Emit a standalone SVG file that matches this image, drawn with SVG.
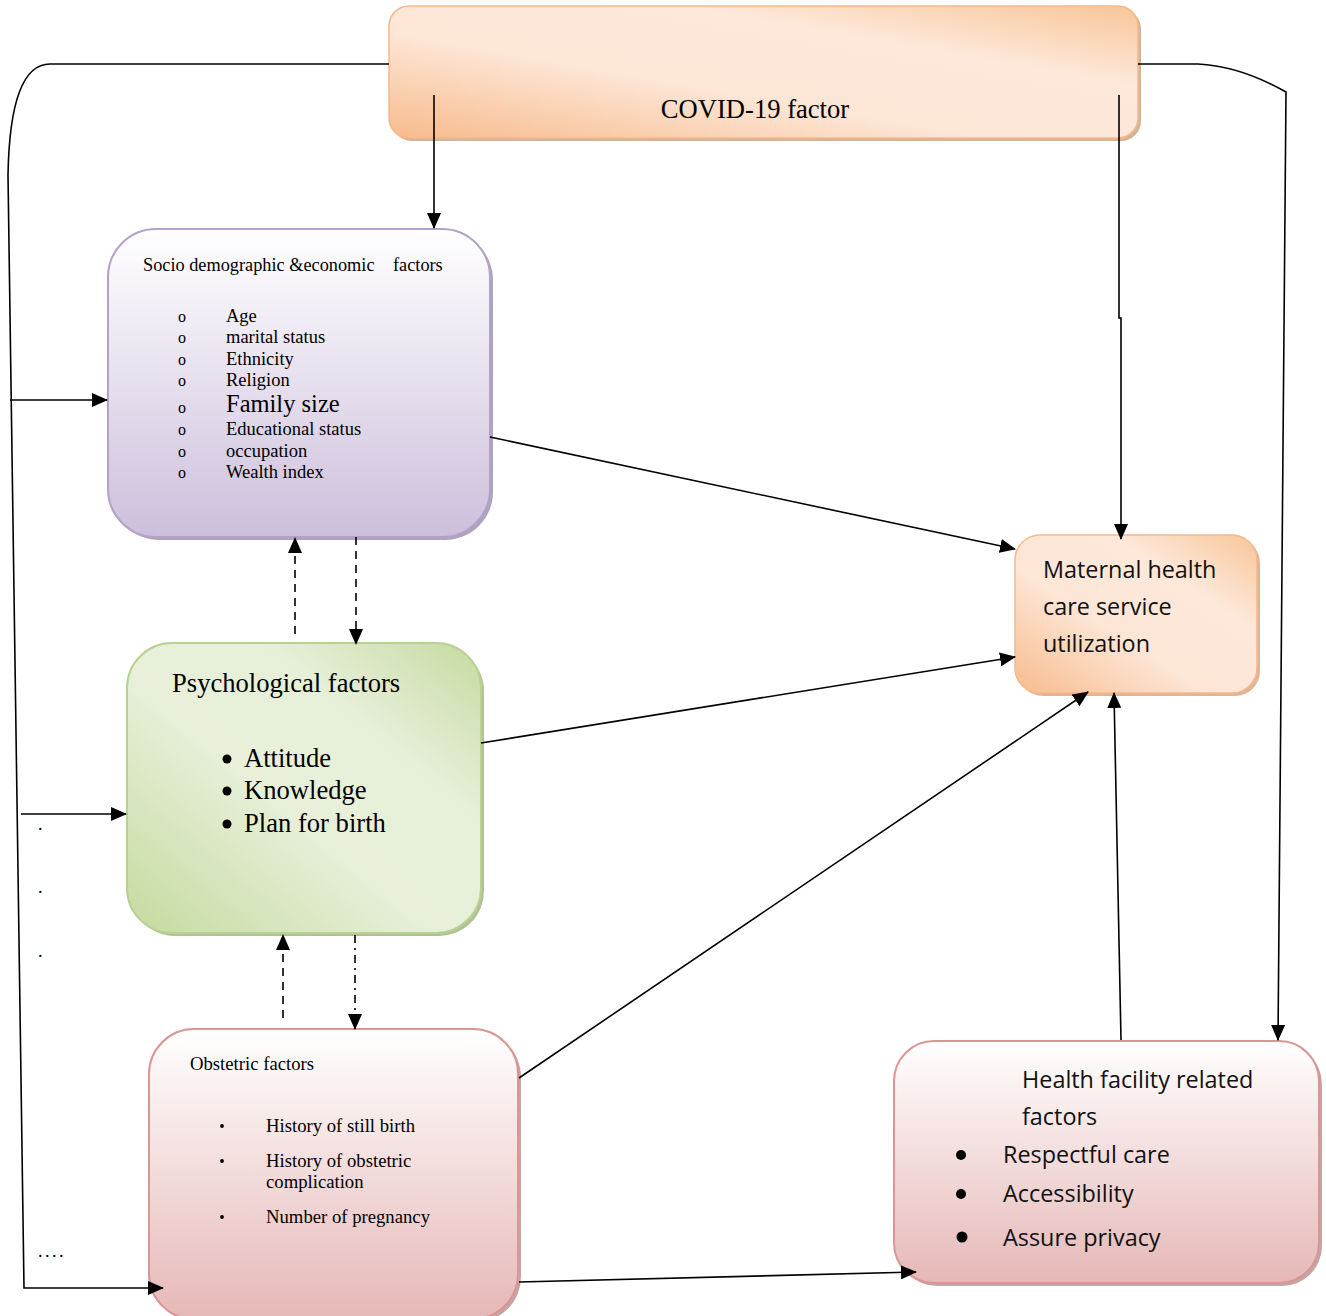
<svg xmlns="http://www.w3.org/2000/svg" width="1326" height="1316" viewBox="0 0 1326 1316">
<style>
.tr{font-family:"Liberation Serif","Times New Roman",serif;fill:#000}
.ca{font-family:"Open Sans","Noto Sans",sans-serif;fill:#111}
.ln{fill:none;stroke:#000;stroke-width:1.6}
.dash{fill:none;stroke:#000;stroke-width:1.6;stroke-dasharray:8,6}
.dd{fill:none;stroke:#000;stroke-width:1.6;stroke-dasharray:8,5,2,5}
</style>
<defs>
<marker id="ahb" markerWidth="16" markerHeight="14" refX="15" refY="7" orient="auto" markerUnits="userSpaceOnUse" viewBox="0 0 16 14">
<path d="M0,0 L16,7 L0,14 Z" fill="#000"/>
</marker>
<linearGradient id="gOr" x1="0" y1="1" x2="1" y2="0">
<stop offset="0" stop-color="#f7bb8c"/>
<stop offset="0.4" stop-color="#fde6d6"/>
<stop offset="0.7" stop-color="#fde8d9"/>
<stop offset="1" stop-color="#f8c598"/>
</linearGradient>
<linearGradient id="gPu" x1="0" y1="0" x2="0" y2="1">
<stop offset="0" stop-color="#ffffff"/>
<stop offset="1" stop-color="#cdbfdc"/>
</linearGradient>
<linearGradient id="gGr" x1="0" y1="1" x2="1" y2="0">
<stop offset="0" stop-color="#c5da9f"/>
<stop offset="0.45" stop-color="#e8f0da"/>
<stop offset="0.7" stop-color="#e6efd8"/>
<stop offset="1" stop-color="#c6daa0"/>
</linearGradient>
<linearGradient id="gPk" x1="0" y1="0" x2="0" y2="1">
<stop offset="0" stop-color="#ffffff"/>
<stop offset="1" stop-color="#e5b8b7"/>
</linearGradient>
</defs>

<g id="covid">
<rect x="392" y="9" width="749" height="132" rx="20" fill="#c9a17f" opacity="0.8"/>
<rect x="389" y="6" width="749" height="132" rx="20" fill="url(#gOr)" stroke="#f6b88a" stroke-width="1.5"/>
<text class="tr" x="755" y="118" font-size="26.6" text-anchor="middle">COVID-19 factor</text>
</g>

<g id="socio">
<rect x="111" y="232" width="382" height="308" rx="48" fill="#9a8cab" opacity="0.8"/>
<rect x="108" y="229" width="382" height="308" rx="48" fill="url(#gPu)" stroke="#b3a2c7" stroke-width="2"/>
<text class="tr" x="143" y="271" font-size="18.3">Socio demographic &amp;economic</text>
<text class="tr" x="393" y="271" font-size="18.3">factors</text>
<g class="tr" font-size="18.5">
<text x="178" y="322" font-size="16">o</text><text x="226" y="322">Age</text>
<text x="178" y="343" font-size="16">o</text><text x="226" y="343">marital status</text>
<text x="178" y="365" font-size="16">o</text><text x="226" y="365">Ethnicity</text>
<text x="178" y="386" font-size="16">o</text><text x="226" y="386">Religion</text>
<text x="178" y="413" font-size="16">o</text><text x="226" y="412" font-size="24.5">Family size</text>
<text x="178" y="435" font-size="16">o</text><text x="226" y="435">Educational status</text>
<text x="178" y="457" font-size="16">o</text><text x="226" y="457">occupation</text>
<text x="178" y="478" font-size="16">o</text><text x="226" y="478">Wealth index</text>
</g>
</g>

<g id="psych">
<rect x="130" y="646" width="354" height="290" rx="45" fill="#9fb07e" opacity="0.8"/>
<rect x="127" y="643" width="354" height="290" rx="45" fill="url(#gGr)" stroke="#b8d293" stroke-width="2"/>
<text class="tr" x="172" y="692" font-size="26.6">Psychological factors</text>
<g class="tr" font-size="26.6">
<circle cx="227" cy="759" r="4.5" fill="#000"/><text x="244" y="767">Attitude</text>
<circle cx="227" cy="791" r="4.5" fill="#000"/><text x="244" y="799">Knowledge</text>
<circle cx="227" cy="824" r="4.5" fill="#000"/><text x="244" y="832">Plan for birth</text>
</g>
</g>

<g id="obstetric">
<rect x="152" y="1032" width="369" height="290" rx="45" fill="#b58e8d" opacity="0.8"/>
<rect x="149" y="1029" width="369" height="290" rx="45" fill="url(#gPk)" stroke="#d99694" stroke-width="2"/>
<text class="tr" x="190" y="1070" font-size="18.7">Obstetric factors</text>
<g class="tr" font-size="18.7">
<circle cx="222" cy="1126" r="1.9" fill="#000"/><text x="266" y="1132">History of still birth</text>
<circle cx="222" cy="1161" r="1.9" fill="#000"/><text x="266" y="1167">History of obstetric</text>
<text x="266" y="1188">complication</text>
<circle cx="222" cy="1217" r="1.9" fill="#000"/><text x="266" y="1223">Number of pregnancy</text>
</g>
</g>

<g id="health">
<rect x="897" y="1044" width="425" height="242" rx="40" fill="#b58e8d" opacity="0.8"/>
<rect x="894" y="1041" width="425" height="242" rx="40" fill="url(#gPk)" stroke="#d99694" stroke-width="2"/>
<g class="ca" font-size="23.4">
<text x="1022" y="1088">Health facility related</text>
<text x="1022" y="1125">factors</text>
<circle cx="961" cy="1155" r="5" fill="#000"/><text x="1003" y="1163">Respectful care</text>
<circle cx="961" cy="1194" r="5" fill="#000"/><text x="1003" y="1202">Accessibility</text>
<circle cx="962" cy="1237" r="5.5" fill="#000"/><text x="1003" y="1246">Assure privacy</text>
</g>
</g>

<g id="maternal">
<rect x="1018" y="538" width="242" height="158" rx="25" fill="#d6a37f" opacity="0.8"/>
<rect x="1015" y="535" width="242" height="158" rx="25" fill="url(#gOr)" stroke="#f6b88a" stroke-width="1.5"/>
<g class="ca" font-size="23.4">
<text x="1043" y="578">Maternal health</text>
<text x="1043" y="615">care service</text>
<text x="1043" y="652">utilization</text>
</g>
</g>

<g id="dots" class="tr" font-size="18">
<text x="38" y="830">.</text>
<text x="38" y="893">.</text>
<text x="38" y="957">.</text>
<text x="38" y="1257" letter-spacing="2.5">....</text>
</g>

<g id="connectors">
<path class="ln" d="M389,64 L50,64 Q10,64 8,175 L24,1288 L163,1288" marker-end="url(#ahb)"/>
<path class="ln" d="M10,400 L107,400" marker-end="url(#ahb)"/>
<path class="ln" d="M21,814 L126,814" marker-end="url(#ahb)"/>
<path class="ln" d="M434,95 L434,228" marker-end="url(#ahb)"/>
<path class="ln" d="M1119,95 L1119,318 L1121,318 L1121,539" marker-end="url(#ahb)"/>
<path class="ln" d="M1138,64 L1198,64 Q1240,66 1286,92 L1278,1040" marker-end="url(#ahb)"/>
<path class="ln" d="M490,437 L1015,549" marker-end="url(#ahb)"/>
<path class="ln" d="M481,743 L1015,657" marker-end="url(#ahb)"/>
<path class="ln" d="M519,1078 L1088,692" marker-end="url(#ahb)"/>
<path class="ln" d="M1121,1040 L1114,693" marker-end="url(#ahb)"/>
<path class="ln" d="M519,1282 L916,1272" marker-end="url(#ahb)"/>
<path class="dash" d="M295,634 L295,538" marker-end="url(#ahb)"/>
<path class="dash" d="M356,537 L356,644" marker-end="url(#ahb)"/>
<path class="dash" d="M283,1018 L283,935" marker-end="url(#ahb)"/>
<path class="dd" d="M355,935 L355,1029" marker-end="url(#ahb)"/>
</g>
</svg>
